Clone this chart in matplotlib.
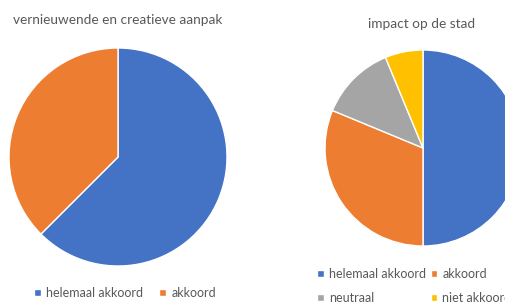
import matplotlib
matplotlib.use("Agg")
import matplotlib.pyplot as plt

plt.rcParams['font.family'] = ['Lato', 'DejaVu Sans']

# data (counts)
labels_left = ["helemaal akkoord", "akkoord"]
values_left = [10, 6]
labels_right = ["helemaal akkoord", "akkoord", "neutraal", "niet akkoord"]
values_right = [8, 5, 2, 1]

colors = ["#4472C4", "#ED7D31", "#A5A5A5", "#FFC000"]
title_col = "#595959"
W, H = 505, 303

fig = plt.figure(figsize=(W / 100, H / 100), dpi=100)
fig.patch.set_facecolor("white")


def px_axes(cx, cy, r):
    return fig.add_axes([(cx - r) / W, (H - cy - r) / H, 2 * r / W, 2 * r / H])


###### LEFT PIE ########
ax1 = px_axes(118, 157, 109)
w1, _ = ax1.pie(values_left, colors=colors[:2], startangle=90, counterclock=False,
                radius=1, wedgeprops=dict(edgecolor="white", linewidth=1))
ax1.set_xlim(-1, 1)
ax1.set_ylim(-1, 1)
ax1.set_aspect("equal")
fig.text(118 / W, 1 - 20 / H, "vernieuwende en creatieve aanpak", ha="center", va="center",
         fontsize=9.8, color=title_col)
fig.legend(w1, labels_left, loc="center left", bbox_to_anchor=(28 / W, 1 - 293 / H),
           ncol=2, frameon=False, fontsize=9, handlelength=0.55, handleheight=0.55,
           handletextpad=0.4, columnspacing=1.3, labelcolor=title_col, borderpad=0)

###### RIGHT PIE ########
ax2 = px_axes(423, 148, 98)
w2, _ = ax2.pie(values_right, colors=colors, startangle=90, counterclock=False,
                radius=1, wedgeprops=dict(edgecolor="white", linewidth=1))
ax2.set_xlim(-1, 1)
ax2.set_ylim(-1, 1)
ax2.set_aspect("equal")
fig.text(422 / W, 1 - 24 / H, "impact op de stad", ha="center", va="center",
         fontsize=9.8, color=title_col)
# legend fills row by row in the reference
order = [0, 2, 1, 3]
fig.legend([w2[i] for i in order], [labels_right[i] for i in order],
           loc="center left", bbox_to_anchor=(311 / W, 1 - 286 / H),
           ncol=2, frameon=False, fontsize=9, handlelength=0.55, handleheight=0.55,
           handletextpad=0.4, columnspacing=0.35, labelspacing=0.95, labelcolor=title_col,
           borderpad=0)

plt.savefig("out.png", dpi=100)
